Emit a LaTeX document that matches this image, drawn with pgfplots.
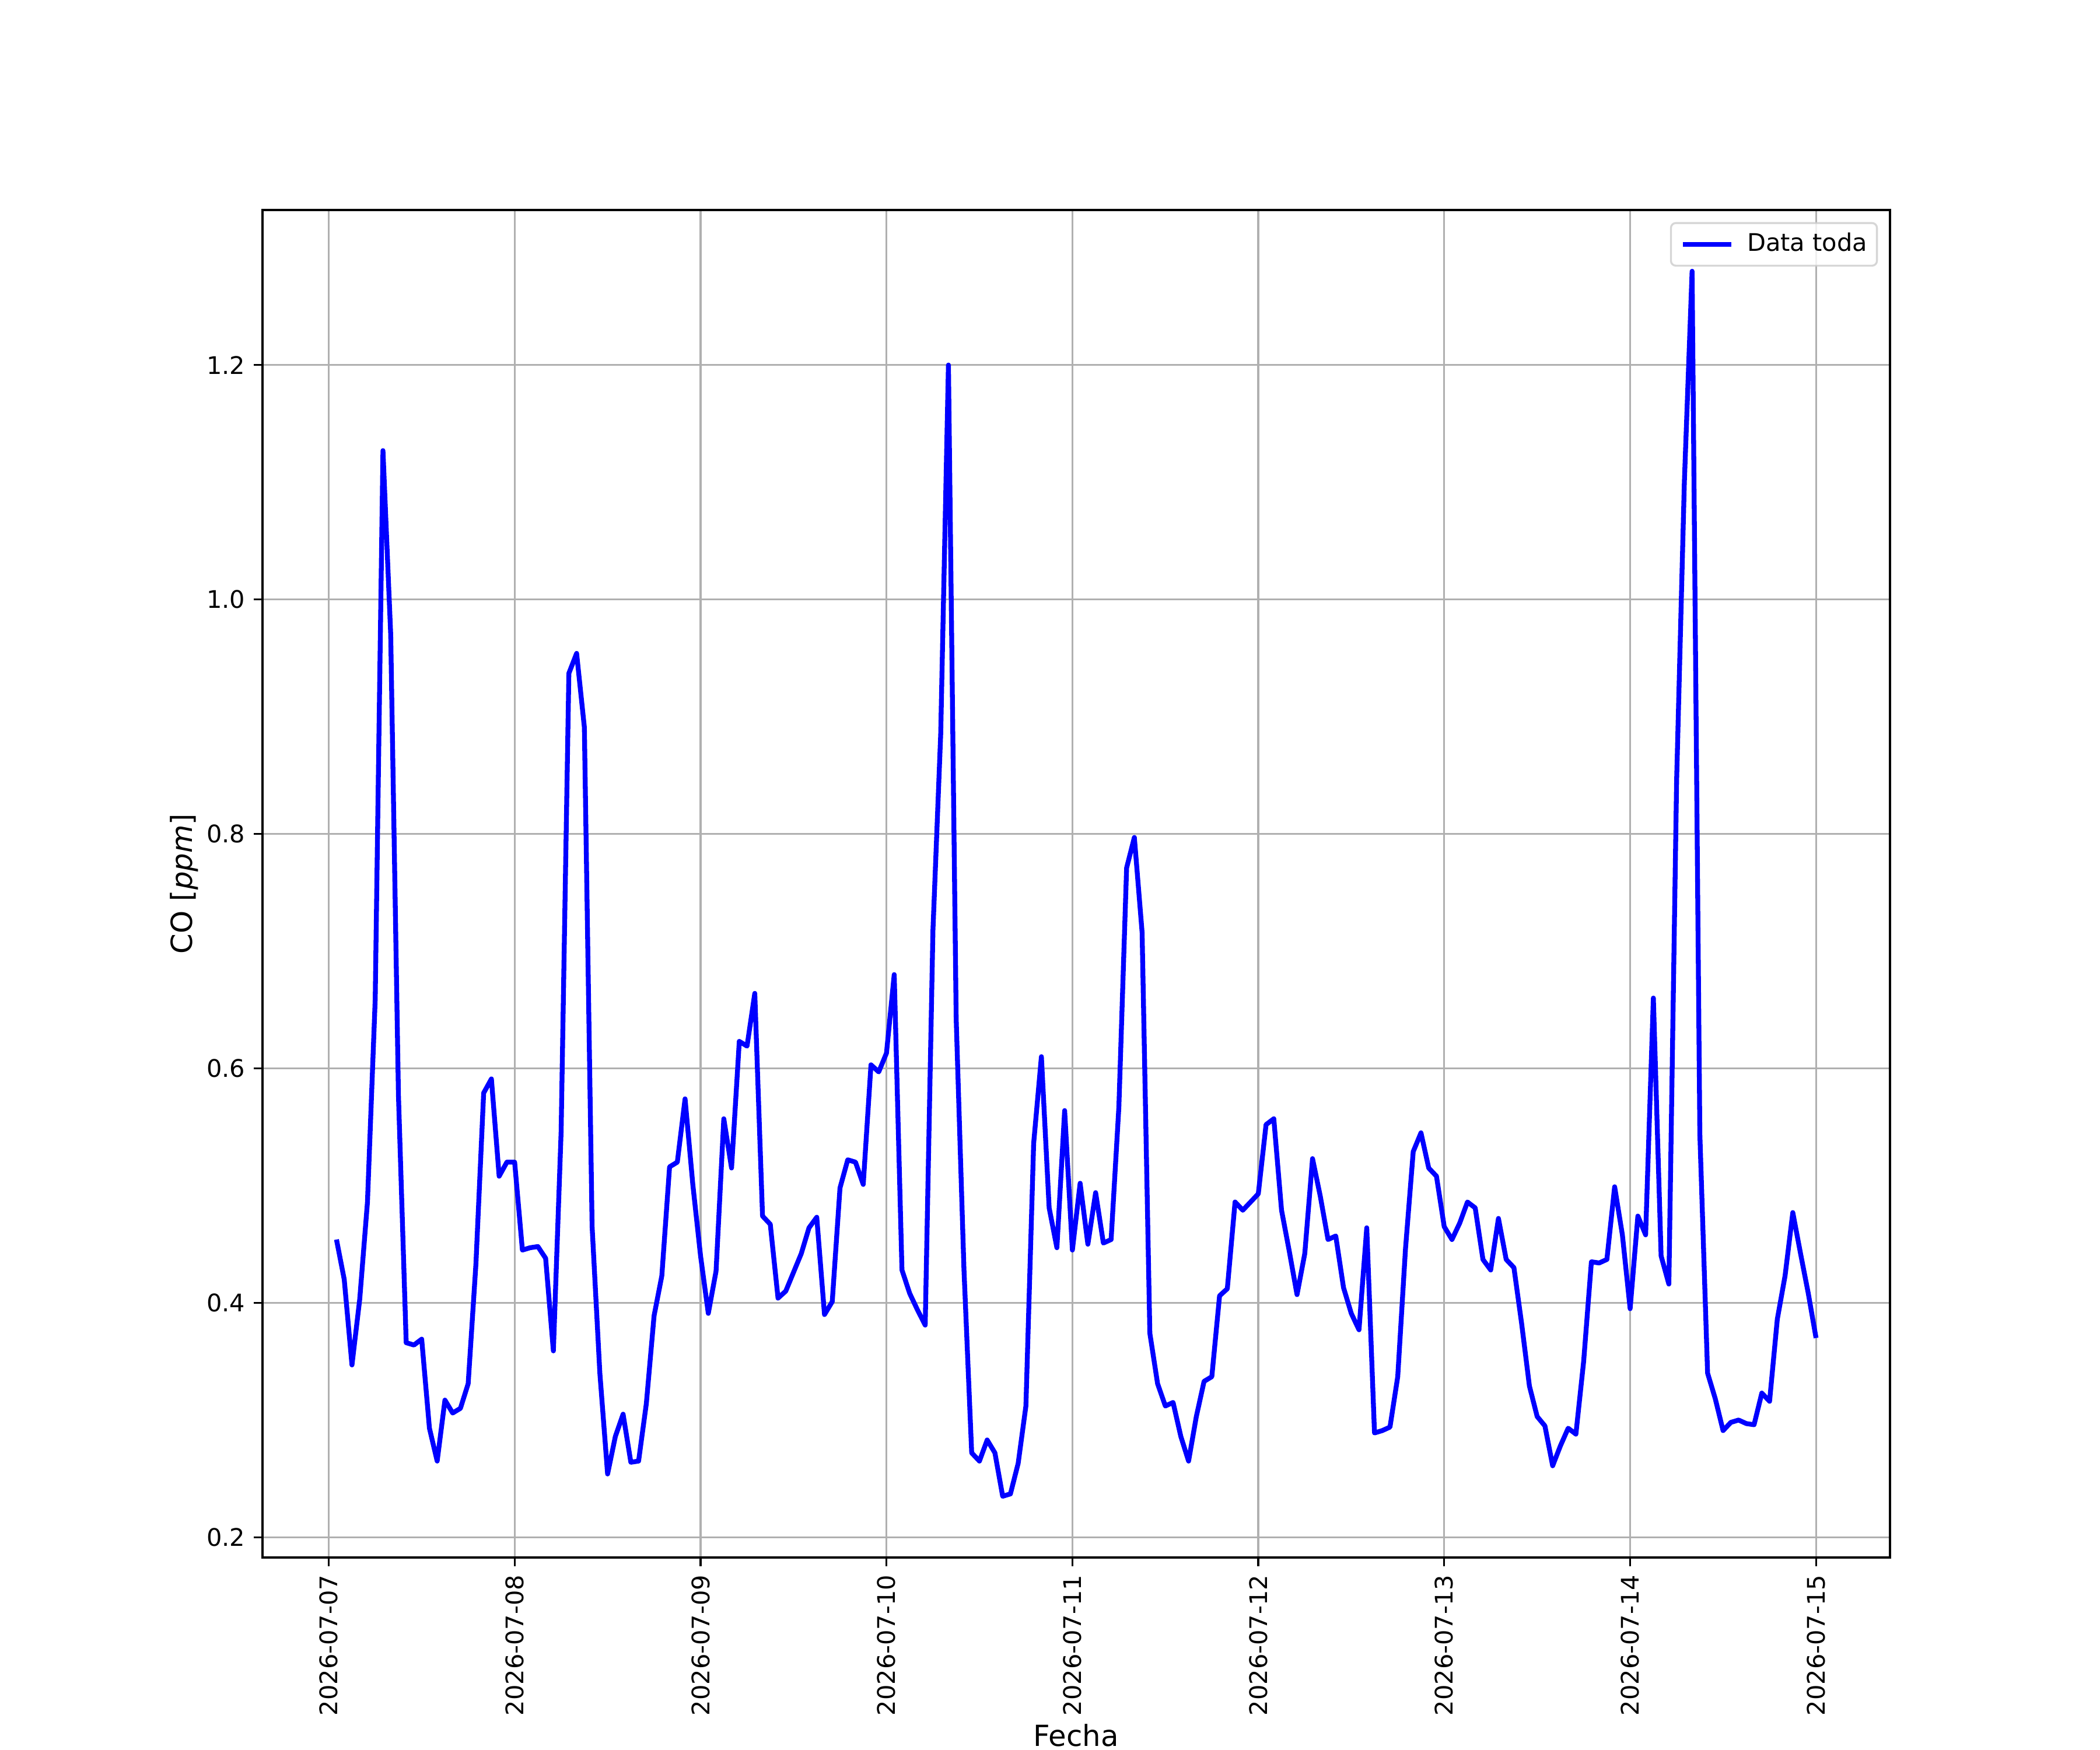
\documentclass[border=0pt]{standalone}
\usepackage{fontspec}
\setmainfont{DejaVu Sans}
\usepackage{pgfplots}
\pgfplotsset{compat=1.18}
\definecolor{gridgray}{HTML}{B0B0B0}
\definecolor{legframe}{HTML}{CCCCCC}
\pgfplotstableread{
x y
1 0.454
2 0.420
3 0.347
4 0.403
5 0.486
6 0.659
7 1.127
8 0.970
9 0.577
10 0.366
11 0.364
12 0.369
13 0.293
14 0.265
15 0.317
16 0.306
17 0.310
18 0.331
19 0.433
20 0.579
21 0.591
22 0.508
23 0.520
24 0.520
25 0.445
26 0.447
27 0.448
28 0.438
29 0.359
30 0.546
31 0.937
32 0.954
33 0.891
34 0.465
35 0.340
36 0.254
37 0.286
38 0.305
39 0.264
40 0.265
41 0.314
42 0.389
43 0.423
44 0.516
45 0.520
46 0.574
47 0.501
48 0.440
49 0.391
50 0.427
51 0.557
52 0.515
53 0.623
54 0.619
55 0.664
56 0.474
57 0.467
58 0.404
59 0.410
60 0.426
61 0.442
62 0.464
63 0.473
64 0.390
65 0.401
66 0.498
67 0.522
68 0.520
69 0.501
70 0.603
71 0.597
72 0.613
73 0.680
74 0.428
75 0.408
76 0.394
77 0.381
78 0.718
79 0.885
80 1.200
81 0.642
82 0.429
83 0.272
84 0.265
85 0.283
86 0.272
87 0.235
88 0.237
89 0.263
90 0.312
91 0.536
92 0.610
93 0.481
94 0.447
95 0.564
96 0.445
97 0.502
98 0.450
99 0.494
100 0.451
101 0.454
102 0.567
103 0.771
104 0.797
105 0.716
106 0.374
107 0.331
108 0.312
109 0.315
110 0.286
111 0.265
112 0.303
113 0.333
114 0.337
115 0.406
116 0.412
117 0.486
118 0.479
119 0.486
120 0.493
121 0.552
122 0.557
123 0.479
124 0.444
125 0.407
126 0.442
127 0.523
128 0.491
129 0.454
130 0.457
131 0.413
132 0.391
133 0.377
134 0.464
135 0.289
136 0.291
137 0.294
138 0.337
139 0.446
140 0.529
141 0.545
142 0.515
143 0.508
144 0.465
145 0.454
146 0.468
147 0.486
148 0.481
149 0.437
150 0.428
151 0.472
152 0.437
153 0.430
154 0.382
155 0.329
156 0.303
157 0.295
158 0.261
159 0.278
160 0.293
161 0.288
162 0.350
163 0.435
164 0.434
165 0.437
166 0.499
167 0.458
168 0.395
169 0.474
170 0.458
171 0.660
172 0.440
173 0.416
174 0.845
175 1.100
176 1.280
177 0.544
178 0.340
179 0.318
180 0.291
181 0.298
182 0.300
183 0.297
184 0.296
185 0.323
186 0.316
187 0.386
188 0.423
189 0.477
190 0.442
191 0.408
192 0.370
}\codata
\begin{document}
\fontsize{10}{12}\selectfont
\begin{tikzpicture}
\useasboundingbox (0,0) rectangle (12in,10in);
\begin{axis}[
  at={(1.5in,1.1in)}, anchor=south west,
  scale only axis, width=9.3in, height=7.7in,
  xmin=-8.55, xmax=201.55, ymin=0.18275, ymax=1.33225,
  xtick={0,24,48,72,96,120,144,168,192},
  xticklabels={2026-07-07,2026-07-08,2026-07-09,2026-07-10,2026-07-11,2026-07-12,2026-07-13,2026-07-14,2026-07-15},
  ytick={0.2,0.4,0.6,0.8,1.0,1.2},
  /pgf/number format/fixed,
  /pgf/number format/fixed zerofill,
  /pgf/number format/precision=1,
  /pgf/number format/assume math mode=true,
  xticklabel style={rotate=90, anchor=east, inner sep=0pt, font=\fontsize{10}{12}\selectfont},
  yticklabel style={anchor=east, inner sep=0pt, font=\fontsize{10}{12}\selectfont},
  xticklabel shift=3.5pt, yticklabel shift=3.5pt,
  tick align=outside, tick pos=left,
  major tick length=3.5pt,
  tick style={black, line width=0.8pt},
  axis line style={line width=0.8pt},
  grid=major,
  grid style={gridgray, line width=0.8pt},
  xlabel={Fecha}, ylabel={CO [\textit{ppm}]},
  label style={font=\fontsize{12}{14.4}\selectfont},
  legend style={at={(1,1)}, anchor=north east, xshift=-5pt, yshift=-5pt,
    draw=legframe, line width=0.8pt, rounded corners=2pt, fill=white,
    fill opacity=0.8, draw opacity=0.8, text opacity=1,
    inner xsep=4pt, inner ysep=4pt, column sep=5.5pt,
    font=\fontsize{10}{12}\selectfont,
    nodes={inner sep=0pt, text height=7.6pt, text depth=2pt}},
  legend cell align=left,
  legend image code/.code={\draw[#1, draw opacity=1] (0pt,0pt) -- (20pt,0pt);},
]
\addplot[blue, line width=2pt, line join=round] table[x=x,y=y]{\codata};
\addlegendentry{Data toda}
\end{axis}
\end{tikzpicture}
\end{document}
